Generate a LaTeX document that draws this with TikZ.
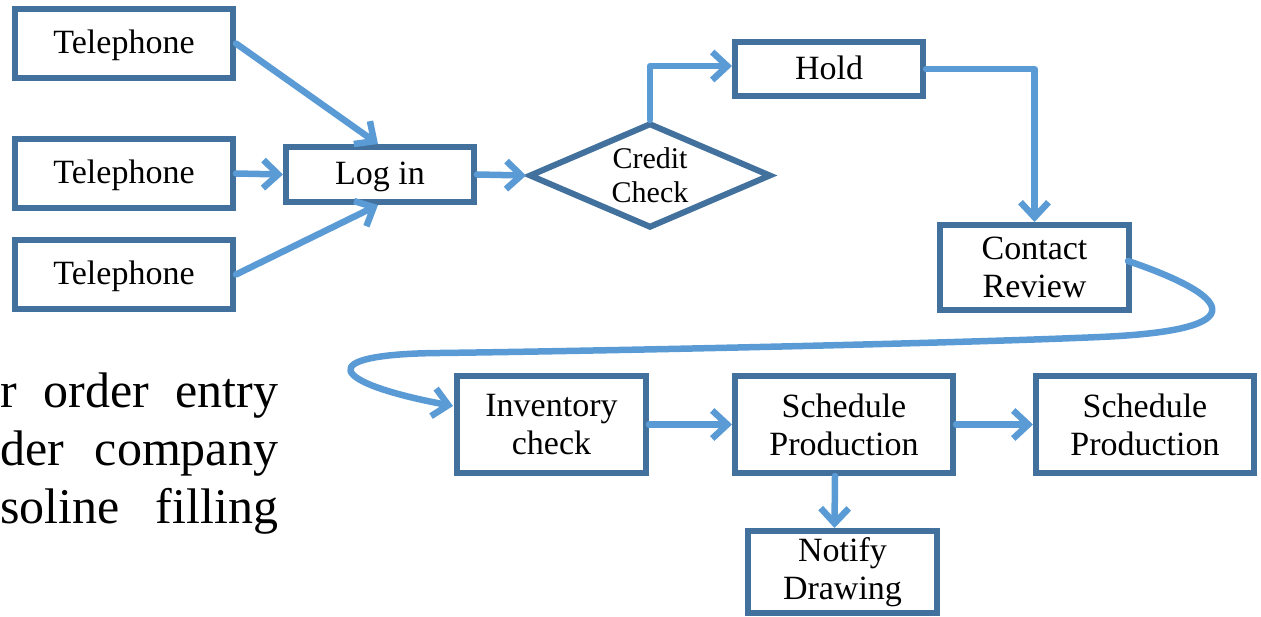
\documentclass[tikz,border=0pt]{standalone}
\usepackage{fontspec}
\setmainfont{Liberation Serif}
\usetikzlibrary{arrows.meta,shapes.geometric,calc}
\definecolor{boxc}{HTML}{41719C}
\definecolor{arrc}{HTML}{5B9BD5}
\begin{document}
\begin{tikzpicture}[x=1pt,y=-1pt,
  box/.style={draw=boxc,line width=6pt,fill=white,inner sep=0pt,align=center,font=\fontsize{34}{38}\selectfont},
  oneline/.style={text height=24pt,text depth=3pt},
  flow/.style={draw=arrc,line width=6.5pt,line cap=round,line join=round,-{Straight Barb[length=15pt,width=28pt]}},
  body/.style={anchor=base west,inner sep=0pt,font=\fontsize{50}{60}\selectfont}]
\useasboundingbox (0,0) rectangle (1261,617);
% nodes
\node[box,oneline,minimum width=218pt,minimum height=69pt] (T1) at (124,43.5) {Telephone};
\node[box,oneline,minimum width=218pt,minimum height=69pt] (T2) at (124,173.5) {Telephone};
\node[box,oneline,minimum width=218pt,minimum height=69pt] (T3) at (124,274.5) {Telephone};
\node[box,oneline,minimum width=188pt,minimum height=55pt] (L) at (380,174.5) {Log in};
\node[draw=boxc,line width=6pt,fill=white,diamond,aspect=2.3,minimum width=242pt,minimum height=105pt,inner sep=0pt,align=center,font=\fontsize{30}{34}\selectfont] (D) at (650,175.5) {Credit\\Check};
\node[box,oneline,minimum width=188pt,minimum height=54pt] (H) at (829,69) {Hold};
\node[box,minimum width=189pt,minimum height=85pt] (C) at (1034.5,267.5) {Contact\\Review};
\node[box,minimum width=189pt,minimum height=97pt] (I) at (551.5,424.5) {Inventory\\check};
\node[box,minimum width=218pt,minimum height=97pt] (S1) at (844,424.5) {Schedule\\Production};
\node[box,minimum width=218pt,minimum height=97pt] (S2) at (1145,424.5) {Schedule\\Production};
\node[box,minimum width=189pt,minimum height=82pt] (N) at (842.5,572) {Notify\\Drawing};
% body text
\node[body] (b1) at (0,407) {\makebox[278pt][s]{r order entry}};
\node[body] (b2) at (0,465) {\makebox[278pt][s]{der company}};
\node[body] (b3) at (0,523) {\makebox[278pt][s]{soline filling}};
% connectors
\draw[flow] (T1.east) -- ($(L.north)+(-2,0)$);
\draw[flow] (T2.east) -- (L.west);
\draw[flow] (T3.east) -- ($(L.south)+(-2,0)$);
\draw[flow] (L.east) -- (D.west);
\draw[flow] (D.north) |- ($(H.west)+(0,-3)$);
\draw[flow] (H.east) -| (C.north);
\draw[flow] ($(C.east)+(-4,-6.5)$) .. controls (1228,295) and (1262,330) .. (1100,337)
  .. controls (950,343.5) and (600,351) .. (440,353)
  .. controls (310,354) and (330,383) .. ($(I.west)+(-1,-18.5)$);
\draw[flow] (I.east) -- (S1.west);
\draw[flow] (S1.east) -- (S2.west);
\draw[flow] ($(S1.south)+(-9,0)$) -- ($(N.north)+(-8,0)$);
\end{tikzpicture}
\end{document}
